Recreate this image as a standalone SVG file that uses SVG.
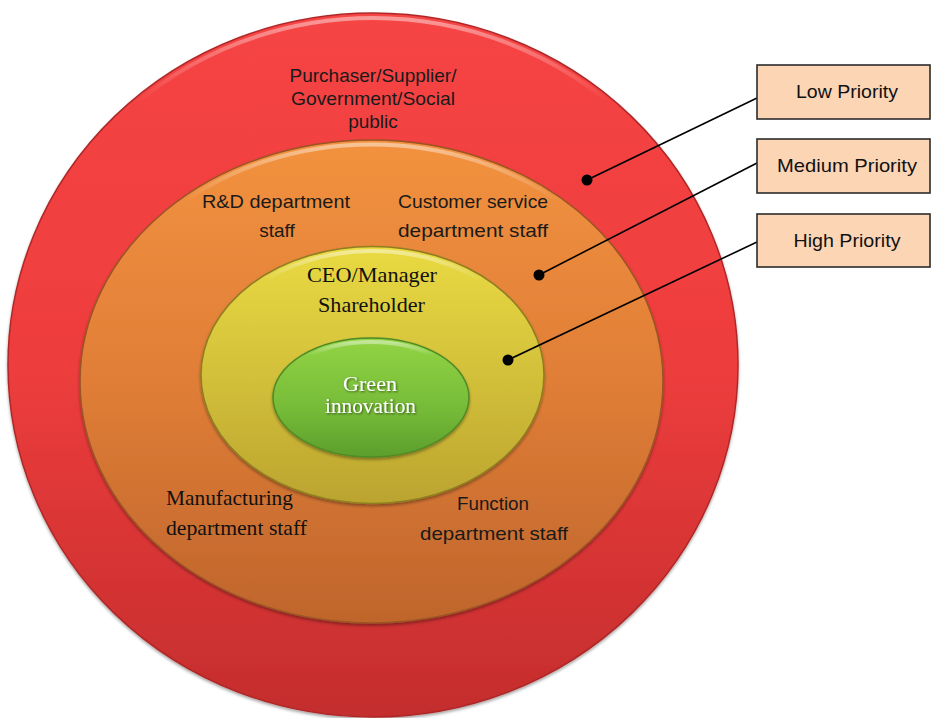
<svg xmlns="http://www.w3.org/2000/svg" width="934" height="718" viewBox="0 0 934 718">
<defs>
<linearGradient id="gRed" x1="0" y1="0" x2="0" y2="1">
<stop offset="0" stop-color="#f64444"/><stop offset="0.5" stop-color="#ee3d3d"/><stop offset="1" stop-color="#c42d2d"/>
</linearGradient>
<linearGradient id="gOrange" x1="0" y1="0" x2="0" y2="1">
<stop offset="0" stop-color="#f2923f"/><stop offset="0.5" stop-color="#e07e37"/><stop offset="1" stop-color="#bf652c"/>
</linearGradient>
<linearGradient id="gYellow" x1="0" y1="0" x2="0" y2="1">
<stop offset="0" stop-color="#e9da42"/><stop offset="0.5" stop-color="#d3c03a"/><stop offset="1" stop-color="#bba42f"/>
</linearGradient>
<linearGradient id="gGreen" x1="0" y1="0" x2="0" y2="1">
<stop offset="0" stop-color="#92d445"/><stop offset="0.6" stop-color="#76bb38"/><stop offset="1" stop-color="#5c9e2c"/>
</linearGradient>
<linearGradient id="gHi" x1="0" y1="0" x2="0" y2="1">
<stop offset="0" stop-color="#fff" stop-opacity="0.45"/><stop offset="0.12" stop-color="#fff" stop-opacity="0"/>
</linearGradient>
<filter id="sh" x="-5%" y="-5%" width="110%" height="110%">
<feGaussianBlur in="SourceAlpha" stdDeviation="1.5"/><feOffset dx="0" dy="2" result="b"/>
<feFlood flood-color="#000" flood-opacity="0.35"/><feComposite in2="b" operator="in"/>
<feMerge><feMergeNode/><feMergeNode in="SourceGraphic"/></feMerge>
</filter>
<filter id="tsh" x="-10%" y="-20%" width="120%" height="140%">
<feGaussianBlur in="SourceAlpha" stdDeviation="0.8"/><feOffset dx="1" dy="1" result="b"/>
<feFlood flood-color="#1f3a0c" flood-opacity="0.8"/><feComposite in2="b" operator="in"/>
<feMerge><feMergeNode/><feMergeNode in="SourceGraphic"/></feMerge>
</filter>
</defs>
<style>
.sans{font-family:"Liberation Sans",Arial,sans-serif;font-size:19px;fill:#1a1a1a;}
.serif{font-family:"Liberation Serif","Times New Roman",serif;font-size:21px;fill:#111;}
.wt{font-family:"Liberation Serif","Times New Roman",serif;font-size:21px;fill:#fff;}
.hi{fill:none;stroke:url(#gHi);stroke-width:4;}
.box{fill:#fcd5b5;stroke:#2b2b2b;stroke-width:1.6;}
.lbl{font-family:"Liberation Sans",Arial,sans-serif;font-size:19px;fill:#111;text-anchor:middle;}
.conn line{stroke:#000;stroke-width:1.6;}
.conn circle{fill:#000;}
</style>
<rect width="934" height="718" fill="#fff"/>
<g id="ring-low">
<ellipse cx="373" cy="365" rx="365" ry="352" fill="url(#gRed)" stroke="#b02828" stroke-width="1.5" filter="url(#sh)"/>
<ellipse class="hi" cx="373" cy="366" rx="361" ry="348"/>
</g>
<g id="ring-medium">
<ellipse cx="371.5" cy="381.5" rx="291.5" ry="241.5" fill="url(#gOrange)" stroke="#9a5525" stroke-width="1.5" filter="url(#sh)"/>
<ellipse class="hi" cx="371.5" cy="382.5" rx="288" ry="238"/>
</g>
<g id="ring-high">
<ellipse cx="372.5" cy="375" rx="171.5" ry="128.5" fill="url(#gYellow)" stroke="#8f7d22" stroke-width="1.5" filter="url(#sh)"/>
<ellipse class="hi" cx="372.5" cy="376" rx="168" ry="125"/>
</g>
<g id="core">
<ellipse cx="371" cy="397.5" rx="98" ry="59.5" fill="url(#gGreen)" stroke="#4f8a25" stroke-width="1.5" filter="url(#sh)"/>
<ellipse class="hi" cx="371" cy="398.5" rx="95" ry="56.5"/>
</g>
<g id="labels-low">
<text class="sans" x="373" y="82" text-anchor="middle" textLength="167" lengthAdjust="spacingAndGlyphs">Purchaser/Supplier/</text>
<text class="sans" x="373" y="105" text-anchor="middle" textLength="164" lengthAdjust="spacingAndGlyphs">Government/Social</text>
<text class="sans" x="373" y="128" text-anchor="middle">public</text>
</g>
<g id="labels-medium">
<text class="sans" x="276" y="208" text-anchor="middle" textLength="148" lengthAdjust="spacingAndGlyphs">R&amp;D department</text>
<text class="sans" x="277" y="237" text-anchor="middle">staff</text>
<text class="sans" x="473" y="208" text-anchor="middle" textLength="150" lengthAdjust="spacingAndGlyphs">Customer service</text>
<text class="sans" x="473" y="237" text-anchor="middle" textLength="150" lengthAdjust="spacingAndGlyphs">department staff</text>
<text class="serif" x="166" y="505" textLength="127" lengthAdjust="spacingAndGlyphs">Manufacturing</text>
<text class="serif" x="166" y="535" textLength="141" lengthAdjust="spacingAndGlyphs">department staff</text>
<text class="sans" x="493" y="510" text-anchor="middle" textLength="72" lengthAdjust="spacingAndGlyphs">Function</text>
<text class="sans" x="494" y="540" text-anchor="middle" textLength="148" lengthAdjust="spacingAndGlyphs">department staff</text>
</g>
<g id="labels-high">
<text class="serif" x="372" y="282" text-anchor="middle" textLength="130" lengthAdjust="spacingAndGlyphs">CEO/Manager</text>
<text class="serif" x="371.5" y="312" text-anchor="middle" textLength="107" lengthAdjust="spacingAndGlyphs">Shareholder</text>
</g>
<g id="labels-core" filter="url(#tsh)">
<text class="wt" x="370" y="391" text-anchor="middle" textLength="54" lengthAdjust="spacingAndGlyphs">Green</text>
<text class="wt" x="370.5" y="413" text-anchor="middle" textLength="91" lengthAdjust="spacingAndGlyphs">innovation</text>
</g>
<g id="connectors" class="conn">
<line x1="587" y1="180" x2="757" y2="98"/>
<circle cx="587" cy="180" r="5.5"/>
<line x1="539" y1="275" x2="757" y2="163"/>
<circle cx="539" cy="275" r="5.5"/>
<line x1="508" y1="360" x2="757" y2="242"/>
<circle cx="508" cy="360" r="5.5"/>
</g>
<g id="box-low">
<rect class="box" x="757" y="65" width="173" height="54"/>
<text class="lbl" x="847" y="98" textLength="102" lengthAdjust="spacingAndGlyphs">Low Priority</text>
</g>
<g id="box-medium">
<rect class="box" x="757" y="139" width="173" height="54"/>
<text class="lbl" x="847" y="172" textLength="140" lengthAdjust="spacingAndGlyphs">Medium Priority</text>
</g>
<g id="box-high">
<rect class="box" x="757" y="214" width="173" height="53"/>
<text class="lbl" x="847" y="247" textLength="107" lengthAdjust="spacingAndGlyphs">High Priority</text>
</g>
</svg>
